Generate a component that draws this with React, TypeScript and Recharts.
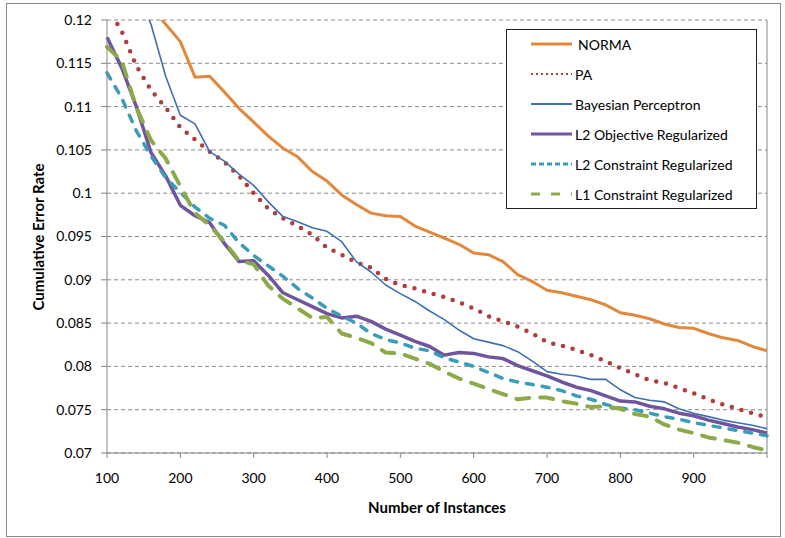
import React from 'react'
import { LineChart, Line, CartesianGrid, XAxis, YAxis, ReferenceLine } from 'recharts'

const instances = [
  100, 120, 140, 160, 180, 200, 220, 240, 260, 280, 300, 320, 340, 360, 380, 400,
  420, 440, 460, 480, 500, 520, 540, 560, 580, 600, 620, 640, 660, 680, 700, 720,
  740, 760, 780, 800, 820, 840, 860, 880, 900, 920, 940, 960, 980, 1000,
]

const norma = [
  0.1275, 0.1255, 0.1235, 0.1215, 0.1195, 0.1175, 0.1134, 0.1135, 0.1117, 0.1098, 0.1082, 0.1066, 0.1052, 0.1042, 0.1025, 0.1014,
  0.0998, 0.0987, 0.0977, 0.0974, 0.0973, 0.0962, 0.0955, 0.0948, 0.0941, 0.0931, 0.0929, 0.0921, 0.0906, 0.0898, 0.0888, 0.0885,
  0.0881, 0.0877, 0.0871, 0.0862, 0.0859, 0.0855, 0.0849, 0.0845, 0.0844, 0.0838, 0.0833, 0.083, 0.0823, 0.0818,
]
const pa = [
  0.1215, 0.1187, 0.1147, 0.1119, 0.1099, 0.1076, 0.1062, 0.1048, 0.1036, 0.102, 0.1, 0.0982, 0.0971, 0.0962, 0.0952, 0.0937,
  0.0929, 0.092, 0.0914, 0.0901, 0.0894, 0.089, 0.0885, 0.088, 0.0874, 0.0867, 0.0858, 0.0852, 0.0846, 0.0838, 0.0828, 0.0824,
  0.0819, 0.0813, 0.0806, 0.0798, 0.0791, 0.0784, 0.0781, 0.0775, 0.0769, 0.0762, 0.0756, 0.0751, 0.0746, 0.0741,
]
const bayesian = [
  0.131, 0.127, 0.1235, 0.1195, 0.1135, 0.109, 0.108, 0.1048, 0.1037, 0.1022, 0.1009, 0.099, 0.0973, 0.0967, 0.096, 0.0956,
  0.0944, 0.0921, 0.0909, 0.0894, 0.0884, 0.0875, 0.0864, 0.0854, 0.0842, 0.0832, 0.0828, 0.0824, 0.0817, 0.0806, 0.0794, 0.0791,
  0.0789, 0.0785, 0.0785, 0.0773, 0.0764, 0.0761, 0.0759, 0.0751, 0.0746, 0.0742, 0.0738, 0.0735, 0.0732, 0.0728,
]
const l2Objective = [
  0.118, 0.1145, 0.11, 0.1047, 0.102, 0.0986, 0.0974, 0.0966, 0.0942, 0.0921, 0.0922, 0.0905, 0.0885, 0.0877, 0.0869, 0.0861,
  0.0856, 0.0858, 0.0852, 0.0843, 0.0836, 0.0829, 0.0823, 0.0813, 0.0816, 0.0815, 0.0811, 0.0809, 0.0801, 0.0795, 0.0789, 0.0782,
  0.0776, 0.0772, 0.0766, 0.076, 0.0759, 0.0754, 0.0751, 0.0746, 0.0743, 0.0738, 0.0734, 0.073, 0.0727, 0.0723,
]
const l2Constraint = [
  0.1139, 0.111, 0.1072, 0.1043, 0.1018, 0.1001, 0.0984, 0.0971, 0.0963, 0.0943, 0.0928, 0.0916, 0.0904, 0.089, 0.0879, 0.0867,
  0.0858, 0.085, 0.0838, 0.0831, 0.0827, 0.0821, 0.0818, 0.081, 0.0805, 0.08, 0.0793, 0.0786, 0.0782, 0.0779, 0.0776, 0.0772,
  0.0766, 0.0762, 0.0756, 0.0752, 0.075, 0.0746, 0.0742, 0.0739, 0.0735, 0.0732, 0.0729, 0.0726, 0.0723, 0.072,
]
const l1Constraint = [
  0.1169, 0.1153, 0.1099, 0.1061, 0.104, 0.1008, 0.0977, 0.0963, 0.0944, 0.0922, 0.0918, 0.0893, 0.0878, 0.0867, 0.0856, 0.0857,
  0.0838, 0.0833, 0.0827, 0.0816, 0.0815, 0.0809, 0.0803, 0.0794, 0.0786, 0.078, 0.0774, 0.0768, 0.0762, 0.0764, 0.0764, 0.076,
  0.0757, 0.0753, 0.0754, 0.0751, 0.0745, 0.0742, 0.0733, 0.0727, 0.0723, 0.0718, 0.0715, 0.0712, 0.0707, 0.0703,
]

const yTicks = [0.07, 0.075, 0.08, 0.085, 0.09, 0.095, 0.1, 0.105, 0.11, 0.115, 0.12]
const xTicks = [100, 200, 300, 400, 500, 600, 700, 800, 900, 1000]

const series = [
  { key: 'norma', name: 'NORMA', color: '#E3883A', width: 3, dash: undefined, cap: 'butt' },
  { key: 'pa', name: 'PA', color: '#B23B3B', width: 4.5, dash: '0 10', cap: 'round' },
  { key: 'bayesian', name: 'Bayesian Perceptron', color: '#3F6FB0', width: 1.6, dash: undefined, cap: 'butt' },
  { key: 'l2o', name: 'L2 Objective Regularized', color: '#71549E', width: 3.5, dash: undefined, cap: 'butt' },
  { key: 'l2c', name: 'L2 Constraint Regularized', color: '#3A9CB8', width: 3.5, dash: '7 9', cap: 'round' },
  { key: 'l1c', name: 'L1 Constraint Regularized', color: '#8DAA48', width: 4, dash: '13 11', cap: 'round' },
]

const data = instances.map((n, i) => ({
  n,
  norma: norma[i],
  pa: pa[i],
  bayesian: bayesian[i],
  l2o: l2Objective[i],
  l2c: l2Constraint[i],
  l1c: l1Constraint[i],
}))

const font = 'Lato, "Open Sans", sans-serif'

// legend sample styles differ a bit from the plotted strokes (as in the original)
const legendDash: Record<string, string | undefined> = {
  pa: '2 3',
  l2c: '5 3',
  l1c: '9 11',
}

function LegendBox() {
  return (
    <div
      style={{
        position: 'absolute',
        left: 506,
        top: 29,
        width: 249,
        height: 178,
        border: '1px solid #222',
        background: '#fff',
        fontFamily: font,
        fontSize: 14,
        color: '#000',
      }}
    >
      {series.map((s, i) => (
        <div key={s.key} style={{ position: 'absolute', left: 23, top: 4 + i * 30, height: 20, display: 'flex', alignItems: 'center' }}>
          <svg width={44} height={6} style={{ display: 'block' }}>
            <line
              x1={1}
              x2={42}
              y1={3}
              y2={3}
              stroke={s.color}
              strokeWidth={s.key === 'pa' || s.key === 'bayesian' ? 2 : 3}
              strokeDasharray={legendDash[s.key]}
            />
          </svg>
          <span style={{ marginLeft: s.key === 'norma' ? 4 : 1, whiteSpace: 'nowrap' }}>{s.name}</span>
        </div>
      ))}
    </div>
  )
}

export default function App() {
  return (
    <div style={{ position: 'absolute', left: 0, top: 0, width: 785, height: 538, background: '#fff' }}>
      <div style={{ position: 'absolute', left: 6, top: 3, width: 773, height: 532, border: '1px solid #8a8a8a' }} />
      <LineChart width={785} height={538} data={data} margin={{ top: 20, right: 18, bottom: 55, left: 47 }}>
        <CartesianGrid vertical={false} stroke="#8c8c8c" strokeDasharray="4 3" />
        <XAxis
          dataKey="n"
          type="number"
          domain={[100, 1000]}
          ticks={xTicks}
          tickFormatter={(v: number) => (v === 1000 ? '' : String(v))}
          stroke="#868686"
          tickSize={5}
          tickMargin={15}
          height={30}
          tick={{ fill: '#000', fontSize: 14, fontFamily: font }}
        />
        <YAxis
          type="number"
          domain={[0.07, 0.12]}
          allowDataOverflow
          ticks={yTicks}
          tickFormatter={(v: number) => String(v)}
          stroke="#868686"
          tickSize={6}
          tickMargin={9}
          width={60}
          tick={{ fill: '#000', fontSize: 14, fontFamily: font }}
        />
        <ReferenceLine x={1000} stroke="#868686" strokeWidth={1} />
        {series.map((s) => (
          <Line
            key={s.key}
            dataKey={s.key}
            name={s.name}
            type="linear"
            stroke={s.color}
            strokeWidth={s.width}
            strokeDasharray={s.dash}
            strokeLinecap={s.cap as any}
            strokeLinejoin="round"
            dot={false}
            activeDot={false}
            isAnimationActive={false}
          />
        ))}
      </LineChart>
      <LegendBox />
      <div
        style={{
          position: 'absolute',
          left: 38,
          top: 237,
          transform: 'translate(-50%, -50%) rotate(-90deg)',
          whiteSpace: 'nowrap',
          fontFamily: font,
          fontWeight: 'bold',
          fontSize: 15,
        }}
      >
        Cumulative Error Rate
      </div>
      <div
        style={{
          position: 'absolute',
          left: 437,
          top: 507,
          transform: 'translate(-50%, -50%)',
          whiteSpace: 'nowrap',
          fontFamily: font,
          fontWeight: 'bold',
          fontSize: 15,
        }}
      >
        Number of Instances
      </div>
    </div>
  )
}
